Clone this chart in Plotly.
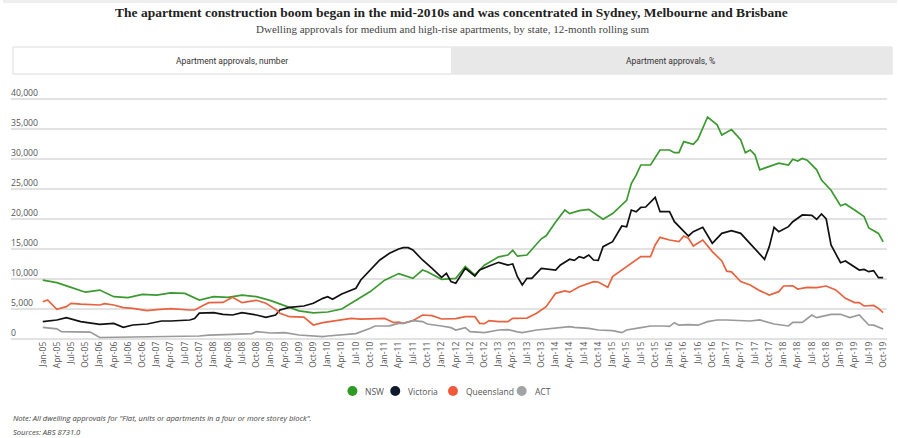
import plotly.graph_objects as go

# ---------------- data (months counted from Jan-2005) ----------------
nsw_month = [0,3,6,9,12,15,18,21,24,27,30,33,36,39,42,45,48,51,54,57,60,63,66,69,72,75,78,80,81,84,87,89,91,93,96,98,99,100,102,105,106,108,110,111,113,115,118,120,123,124,125,126,128,130,132,133,134,135,137,138,140,142,143,145,147,148,149,150,151,153,155,157,158,159,160,161,163,164,166,168,169,171,173,174,176,177]
nsw_value = [9800,9400,8600,7800,8150,7050,6900,7450,7300,7700,7600,6500,7050,6950,7300,7050,6400,5600,4700,4350,4500,5000,6500,7900,9800,10900,10100,11500,11200,9950,10100,12100,10700,12300,13700,14000,14800,13800,14000,16700,17200,19500,21500,20900,21400,21600,19950,20900,23100,25900,27300,29000,29000,31500,31500,31050,31050,32900,32450,33300,37000,35700,34000,34900,33200,31050,31500,30700,28200,28800,29300,29000,29950,29650,30100,29800,28200,26500,24800,22200,22500,21500,20400,18500,17600,16200]

vic_month = [0,3,5,8,12,15,17,19,22,25,27,31,32,33,36,38,40,42,45,47,49,50,52,55,57,59,60,61,63,65,66,67,69,71,73,75,76,77,78,80,82,84,85,86,87,89,91,92,94,96,98,99,100,101,102,103,105,107,108,109,111,112,113,114,115,116,117,118,120,122,123,124,125,126,127,129,130,132,133,136,137,139,141,143,145,147,149,151,152,153,154,155,156,157,158,160,162,163,164,165,166,168,169,172,173,174,175,176,177]
vic_value = [2900,3170,3560,2900,2450,2600,1950,2330,2500,3000,3000,3170,3400,4300,4390,4110,4000,4400,4000,3610,4000,4830,5280,5500,5950,6780,7050,6610,7500,8170,8450,9830,11500,13170,14280,15000,15220,15220,14830,13170,11780,10280,10950,9560,9280,11780,10500,11500,12170,12780,12330,12500,10380,9000,10110,10110,11780,11600,11500,12330,13300,13100,13720,13500,14000,13170,13100,15390,16220,18830,18700,21500,21200,21950,22000,23610,21220,21220,19550,17170,17890,18610,15950,17610,18060,17610,15950,14170,13280,15390,18610,17890,18300,18720,19550,20670,20600,19950,20830,20000,15670,12720,13000,11500,11600,11220,11400,10220,10220]

qld_month = [0,1,3,5,6,8,12,13,15,17,19,22,24,27,31,32,34,35,38,39,40,42,45,47,49,50,51,52,55,57,59,62,65,67,69,72,74,75,76,78,80,82,84,87,89,91,92,93,94,96,98,99,102,104,106,108,110,111,113,116,117,119,120,122,124,126,128,129,130,132,134,135,136,137,139,141,143,144,145,147,149,151,153,155,156,158,159,161,163,165,167,169,171,172,173,175,176,177]
qld_value = [6220,6500,4940,5390,5950,5800,5670,5900,5670,5220,5100,4720,4900,5060,4830,4830,5670,6060,6100,6500,6950,6060,6450,5950,4940,4280,4000,3720,3650,2330,2720,3060,3440,3300,3350,3440,2720,2800,2610,3060,4000,3900,3330,3400,3720,3720,2610,2550,3060,2900,2880,3440,3480,4280,5390,7610,8000,7800,8720,9560,9500,8610,10390,11500,12720,13720,13720,15670,16940,16500,16220,17170,16800,15500,16500,14560,13000,11300,11200,9560,9000,8060,7330,7890,8830,8850,8330,8610,8550,8830,8170,6780,6060,6080,5500,5600,5110,4390]

act_month = [0,2,3,4,10,12,20,22,27,33,35,38,40,44,45,48,51,54,57,59,60,64,66,69,70,73,75,76,78,80,81,84,86,87,89,90,93,96,98,100,101,104,107,109,111,112,115,117,120,122,123,126,128,131,132,133,134,136,137,138,140,142,144,147,149,151,154,157,158,160,162,163,166,168,170,172,174,175,177]
act_value = [1950,1780,1700,1220,1150,250,300,390,350,500,650,780,780,900,1220,1000,1060,670,500,400,500,780,900,1780,2170,2200,2610,2610,3060,2900,2500,2170,1890,1500,1890,1220,1060,1500,1550,1200,1060,1500,1780,1940,2060,1940,1780,1500,1400,1060,1500,1890,2170,2170,2100,2720,2300,2400,2300,2300,2890,3170,3170,3100,3000,3170,2500,2170,2780,2780,4000,3560,4110,4120,3560,4000,2330,2300,1670]

series_names = ["NSW", "Victoria", "Queensland", "ACT"]
series_colors = ["#3b9a2f", "#111111", "#e8623f", "#9a9a9a"]
legend_colors = ["#2f9a23", "#0e1a2b", "#f0593a", "#a3a3a3"]

title_text = "The apartment construction boom began in the mid-2010s and was concentrated in Sydney, Melbourne and Brisbane"
subtitle_text = "Dwelling approvals for medium and high-rise apartments, by state, 12-month rolling sum"
tab_labels = ["Apartment approvals, number", "Apartment approvals, %"]
note_text = 'Note: All dwelling approvals for "Flat, units or apartments in a four or more storey block".'
source_text = "Sources: ABS 8731.0"


def month_to_date(m):
    return f"{2005 + m // 12}-{m % 12 + 1:02d}-01"


W, H = 898, 438


def px(x):
    return x / W


def py(y):
    return 1 - y / H


fig = go.Figure()
all_months = [nsw_month, vic_month, qld_month, act_month]
all_values = [nsw_value, vic_value, qld_value, act_value]
for name, col, ms, vs in zip(series_names, series_colors, all_months, all_values):
    fig.add_trace(go.Scatter(
        x=[month_to_date(m) for m in ms], y=vs, mode="lines", name=name,
        line=dict(color=col, width=1.7), showlegend=False,
        hovertemplate="%{x|%b-%y}: %{y:,}<extra>" + name + "</extra>"))

shapes = []
annotations = []

# top faint band
shapes.append(dict(type="rect", xref="paper", yref="paper", x0=0, x1=1, y0=py(3), y1=1,
                   fillcolor="#eeeeee", line=dict(width=0), layer="below"))
# tabs
shapes.append(dict(type="rect", xref="paper", yref="paper", x0=px(10), x1=px(893), y0=py(74), y1=py(47),
                   fillcolor="#ffffff", line=dict(color="#dcdcdc", width=1), layer="below"))
shapes.append(dict(type="rect", xref="paper", yref="paper", x0=px(450), x1=px(893), y0=py(74), y1=py(47),
                   fillcolor="#e8e8e8", line=dict(width=0), layer="below"))
for lbl, cx in zip(tab_labels, [230, 670]):
    annotations.append(dict(text=lbl, xref="paper", yref="paper", x=px(cx), y=py(60.5),
                            xanchor="center", yanchor="middle", showarrow=False,
                            font=dict(family="Roboto", size=8.5, color="#333333")))

# title / subtitle
annotations.append(dict(text="<b>" + title_text + "</b>", xref="paper", yref="paper", x=px(451), y=py(12),
                        xanchor="center", yanchor="middle", showarrow=False,
                        font=dict(family="Liberation Serif", size=13.5, color="#222222")))
annotations.append(dict(text=subtitle_text, xref="paper", yref="paper", x=px(452), y=py(29),
                        xanchor="center", yanchor="middle", showarrow=False,
                        font=dict(family="Liberation Serif", size=11, color="#444444")))

# legend
legend_circle_x = [351, 394, 452, 521]
for name, col, cx in zip(series_names, legend_colors, legend_circle_x):
    shapes.append(dict(type="circle", xref="paper", yref="paper", x0=px(cx - 5), x1=px(cx + 5),
                       y0=py(396), y1=py(386), fillcolor=col, line=dict(width=0)))
    annotations.append(dict(text=name, xref="paper", yref="paper", x=px(cx + 11), y=py(391),
                            xanchor="left", yanchor="middle", showarrow=False,
                            font=dict(family="Open Sans", size=8.5, color="#555555")))

# notes
annotations.append(dict(text="<i>" + note_text + "</i>", xref="paper", yref="paper", x=px(8), y=py(418),
                        xanchor="left", yanchor="middle", showarrow=False,
                        font=dict(family="Open Sans", size=7.6, color="#444444")))
annotations.append(dict(text="<i>" + source_text + "</i>", xref="paper", yref="paper", x=px(8), y=py(432),
                        xanchor="left", yanchor="middle", showarrow=False,
                        font=dict(family="Open Sans", size=7.6, color="#444444")))

# y axis: 0 at px 339, 5,000 per 30 px; range extended so the 40,000 grid and label show
y_top_value = 42200
y_top_px = 339 - y_top_value * 30 / 5000

fig.update_layout(
    width=W, height=H, margin=dict(l=0, r=0, t=0, b=0),
    paper_bgcolor="white", plot_bgcolor="white",
    showlegend=False, shapes=shapes, annotations=annotations,
    xaxis=dict(type="date", domain=[px(8), px(888)], range=["2004-06-11", "2019-10-26"],
               tick0="2005-01-01", dtick="M3", tickformat="%b-%y", tickangle=-90,
               showgrid=False, zeroline=False, showline=False, ticks="",
               tickfont=dict(family="Open Sans", size=8.5, color="#555555")),
    yaxis=dict(domain=[py(339), py(y_top_px)], range=[0, y_top_value], dtick=5000, tickformat=",",
               anchor="free", position=px(4),
               showgrid=True, gridcolor="#e2e2e2", gridwidth=1.5,
               zeroline=True, zerolinecolor="#e2e2e2", zerolinewidth=1.5,
               showline=False, ticks="", ticklabelposition="inside top",
               tickfont=dict(family="Open Sans", size=8.7, color="#555555")),
)

fig.write_html("out.html")
